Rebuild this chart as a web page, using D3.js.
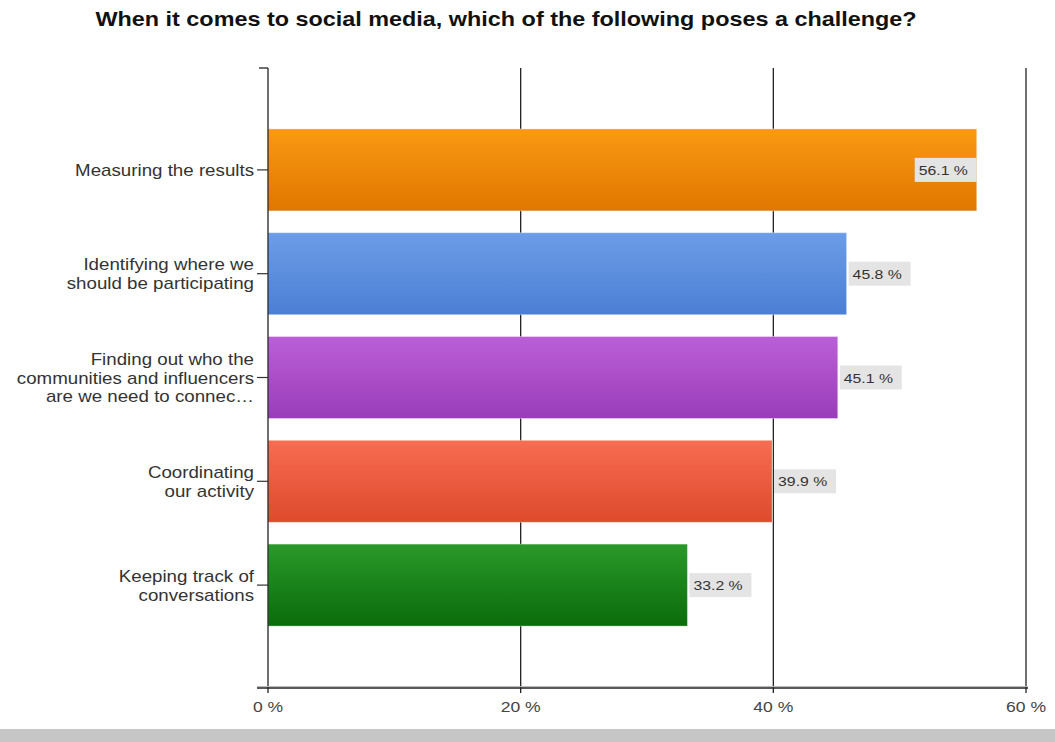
<!DOCTYPE html>
<html>
<head>
<meta charset="utf-8">
<script src="https://cdn.jsdelivr.net/npm/d3@7"></script>
<style>
  body { margin: 0; background: #fff; }
  text { font-family: "Liberation Sans", Arial, sans-serif; }
</style>
</head>
<body>
<div id="chart"></div>
<script>
const title = "When it comes to social media, which of the following poses a challenge?";
const categories = [
  ["Measuring the results"],
  ["Identifying where we", "should be participating"],
  ["Finding out who the", "communities and influencers", "are we need to connec\u2026"],
  ["Coordinating", "our activity"],
  ["Keeping track of", "conversations"]
];
const values = [56.1, 45.8, 45.1, 39.9, 33.2];
const colorsTop = ["#fa9a12", "#6c9de8", "#bb5fd8", "#f86c52", "#2a992a"];
const colorsBottom = ["#e07600", "#4b7fd3", "#9a3db8", "#de4a2c", "#0a6c0a"];
const ticks = [0, 20, 40, 60];

const width = 1055;
const height = 742;
const stretch = 1.17; // the source picture is a bit wider than tall

const svg = d3.select("#chart").append("svg")
  .attr("width", width).attr("height", height);

const defs = svg.append("defs");
values.forEach((v, i) => {
  const g = defs.append("linearGradient").attr("id", "grad" + i)
    .attr("x1", 0).attr("y1", 0).attr("x2", 0).attr("y2", 1);
  g.append("stop").attr("offset", "0%").attr("stop-color", colorsTop[i]);
  g.append("stop").attr("offset", "100%").attr("stop-color", colorsBottom[i]);
});

const x = d3.scaleLinear().domain([0, 60]).range([268, 1026]);
const y = d3.scaleBand().domain(d3.range(values.length))
  .range([118, 637]).paddingInner(0.21).paddingOuter(0.105);

const axisTop = 68, axisBottom = 688;

// text placed at (px, py), widened horizontally
function wideText(parent, px, py) {
  return parent.append("g")
    .attr("transform", `translate(${px},${py}) scale(${stretch},1)`)
    .append("text").attr("x", 0).attr("y", 0);
}

// title
wideText(svg, 506, 26)
  .attr("text-anchor", "middle")
  .attr("font-size", 20).attr("font-weight", "bold")
  .attr("fill", "#111")
  .text(title);

// grid lines
svg.append("g").selectAll("line")
  .data(ticks.slice(1))
  .enter().append("line")
  .attr("x1", d => x(d)).attr("x2", d => x(d))
  .attr("y1", axisTop).attr("y2", axisBottom + 5)
  .attr("stroke", "#222").attr("stroke-width", 1.3);

// bars
svg.append("g").selectAll("rect")
  .data(values)
  .enter().append("rect")
  .attr("x", x(0))
  .attr("y", (d, i) => y(i))
  .attr("width", d => x(d) - x(0))
  .attr("height", y.bandwidth())
  .attr("fill", (d, i) => "url(#grad" + i + ")")
  .attr("stroke", "rgba(255,255,255,0.35)");

// value labels
const boxW = 62, boxH = 24;
const boxX = d => (x(d) + 2 + boxW > 1020) ? x(d) - boxW : x(d) + 2;
values.forEach((d, i) => {
  const cy = y(i) + y.bandwidth() / 2;
  svg.append("rect")
    .attr("x", boxX(d)).attr("y", cy - boxH / 2)
    .attr("width", boxW).attr("height", boxH)
    .attr("fill", "#e4e4e4");
  wideText(svg, boxX(d) + 4, cy + 5)
    .attr("font-size", 13.5).attr("fill", "#333")
    .text(d.toFixed(1) + " %");
});

// left axis
svg.append("line")
  .attr("x1", x(0)).attr("x2", x(0))
  .attr("y1", axisTop).attr("y2", axisBottom + 5)
  .attr("stroke", "#222").attr("stroke-width", 1.3);
svg.append("line")
  .attr("x1", x(0) - 9).attr("x2", x(0))
  .attr("y1", axisTop).attr("y2", axisTop)
  .attr("stroke", "#222").attr("stroke-width", 1.3);

// bottom axis
svg.append("line")
  .attr("x1", x(0) - 11).attr("x2", x(60) + 2)
  .attr("y1", axisBottom - 1.5).attr("y2", axisBottom - 1.5)
  .attr("stroke", "#bbb").attr("stroke-width", 1);
svg.append("line")
  .attr("x1", x(0) - 11).attr("x2", x(60) + 2)
  .attr("y1", axisBottom).attr("y2", axisBottom)
  .attr("stroke", "#222").attr("stroke-width", 1.3);

ticks.forEach(d => {
  wideText(svg, x(d), axisBottom + 24)
    .attr("text-anchor", "middle")
    .attr("font-size", 15).attr("fill", "#444")
    .text(d + " %");
});

// category labels and ticks
categories.forEach((lines, i) => {
  const cy = y(i) + y.bandwidth() / 2;
  svg.append("line")
    .attr("x1", x(0) - 11).attr("x2", x(0))
    .attr("y1", cy).attr("y2", cy)
    .attr("stroke", "#333").attr("stroke-width", 1.2);
  const lh = 19;
  const t = wideText(svg, x(0) - 14, cy + 6)
    .attr("text-anchor", "end")
    .attr("font-size", 16).attr("fill", "#333");
  lines.forEach((ln, j) => {
    t.append("tspan")
      .attr("x", 0)
      .attr("y", (j - (lines.length - 1) / 2) * lh)
      .text(ln);
  });
});

// bottom grey band
svg.append("rect")
  .attr("x", 0).attr("y", 729)
  .attr("width", width).attr("height", height - 729)
  .attr("fill", "#c6c6c6");
</script>
</body>
</html>
